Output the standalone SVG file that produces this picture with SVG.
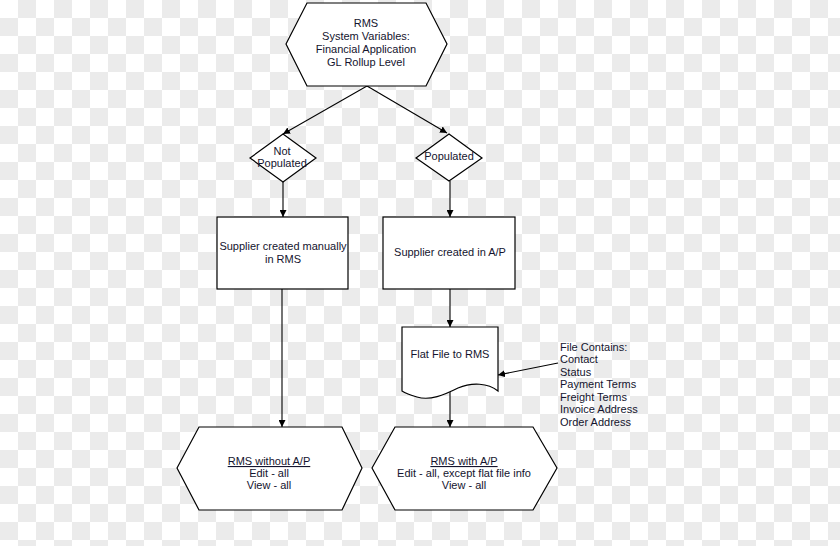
<svg xmlns="http://www.w3.org/2000/svg" width="840" height="546" viewBox="0 0 840 546">
<defs>
<pattern id="chk" x="0" y="0" width="36" height="36" patternUnits="userSpaceOnUse">
<rect width="36" height="36" fill="#ffffff"/>
<rect x="18" y="0" width="18" height="18" fill="#ebebeb"/>
<rect x="0" y="18" width="18" height="18" fill="#ebebeb"/>
</pattern>
<marker id="ah" viewBox="0 0 10 10" refX="10" refY="5" markerWidth="7" markerHeight="7" orient="auto" markerUnits="userSpaceOnUse">
<path d="M0,0 L10,5 L0,10 z" fill="#000"/>
</marker>
<style>
.s{fill:#fff;stroke:#000;stroke-width:1.2}
.t{font-family:"Liberation Sans",Arial,sans-serif;font-size:11px;fill:#14142e;text-anchor:middle}
.l{font-family:"Liberation Sans",Arial,sans-serif;font-size:11px;fill:#14142e}
.c{fill:none;stroke:#000;stroke-width:1.1;marker-end:url(#ah)}
.u{text-decoration:underline}
</style>
</defs>
<rect width="840" height="546" fill="url(#chk)"/>
<g id="connectors">
<path class="c" d="M367,86 L283,134"/>
<path class="c" d="M367,86 L447,133"/>
<path class="c" d="M283,182 L283,217"/>
<path class="c" d="M450,181 L450,217"/>
<path class="c" d="M282,289 L282,427"/>
<path class="c" d="M450,289 L450,327"/>
<path class="c" d="M450,392 L450,427"/>
<path class="c" d="M558,363 L498,375"/>
</g>
<g id="top">
<polygon class="s" points="286,44 307,3 426,3 447,44 426,86 307,86"/>
<text class="t" x="366" y="27">RMS</text>
<text class="t" x="366" y="40">System Variables:</text>
<text class="t" x="366" y="53">Financial Application</text>
<text class="t" x="366" y="66">GL Rollup Level</text>
</g>
<g id="notpop">
<polygon class="s" points="283,134 316,158 283,182 250,158"/>
<text class="t" x="282" y="155">Not</text>
<text class="t" x="282" y="167">Populated</text>
</g>
<g id="pop">
<polygon class="s" points="449,134 482,158 449,181 416,158"/>
<text class="t" x="449" y="160">Populated</text>
</g>
<g id="manual">
<rect class="s" x="217" y="217" width="131" height="72"/>
<text class="t" x="283" y="250">Supplier created manually</text>
<text class="t" x="283" y="263">in RMS</text>
</g>
<g id="inap">
<rect class="s" x="383" y="217" width="132" height="72"/>
<text class="t" x="450" y="256">Supplier created in A/P</text>
</g>
<g id="flatfile">
<path class="s" d="M402,327 L498,327 L498,391 C488,383 472,382 458,388 C444,395 430,401 417,397 C410,395 405,393 402,391 Z"/>
<text class="t" x="450" y="358">Flat File to RMS</text>
</g>
<g id="note">
<text class="l" x="560" y="351">File Contains:</text>
<text class="l" x="560" y="363">Contact</text>
<text class="l" x="560" y="376">Status</text>
<text class="l" x="560" y="388">Payment Terms</text>
<text class="l" x="560" y="401">Freight Terms</text>
<text class="l" x="560" y="413">Invoice Address</text>
<text class="l" x="560" y="426">Order Address</text>
</g>
<g id="without">
<polygon class="s" points="177,468 199,427 342,427 362,468 342,510 199,510"/>
<text class="t u" x="269" y="465">RMS without A/P</text>
<text class="t" x="269" y="477">Edit - all</text>
<text class="t" x="269" y="489">View - all</text>
</g>
<g id="with">
<polygon class="s" points="372,468 395,427 533,427 557,468 533,510 395,510"/>
<text class="t u" x="464" y="465">RMS with A/P</text>
<text class="t" x="464" y="477">Edit - all, except flat file info</text>
<text class="t" x="464" y="489">View - all</text>
</g>
</svg>
